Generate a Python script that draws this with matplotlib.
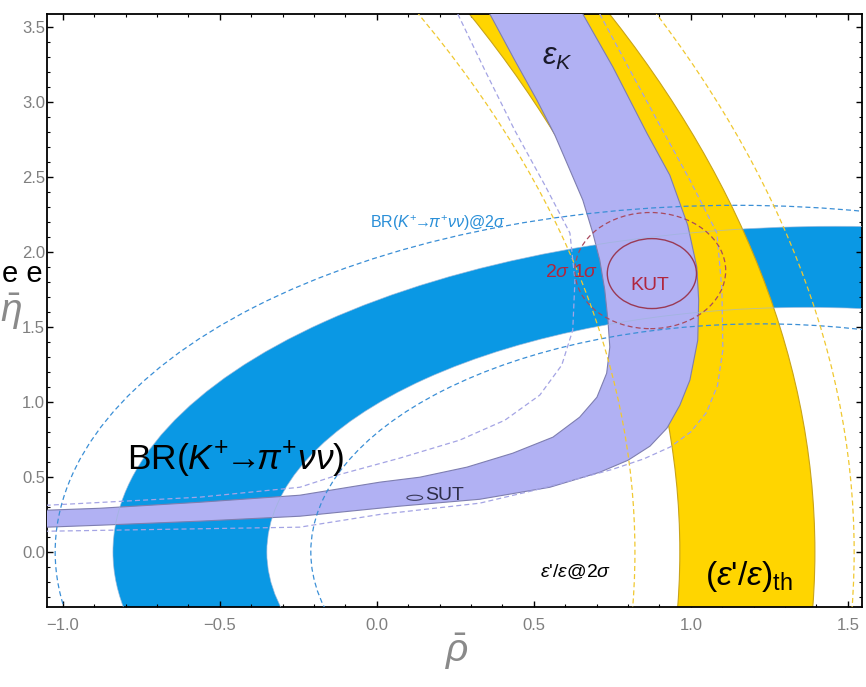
import numpy as np
import matplotlib
matplotlib.use("Agg")
import matplotlib.pyplot as plt
from matplotlib.patches import Ellipse, PathPatch, Polygon
from matplotlib.path import Path
from matplotlib.transforms import Affine2D
from matplotlib.ticker import MultipleLocator

plt.rcParams['font.family'] = ['Liberation Sans', 'DejaVu Sans']
plt.rcParams['mathtext.fontset'] = 'custom'
plt.rcParams['mathtext.rm'] = 'Liberation Sans'
plt.rcParams['mathtext.it'] = 'Liberation Sans:italic'
plt.rcParams['mathtext.bf'] = 'Liberation Sans:bold'
plt.rcParams['mathtext.fallback'] = 'stixsans'

# ---------------- data ----------------
x_range = [-1.05, 1.545]
y_range = [-0.367, 3.585]

# BR(K+ -> pi+ nu nu): ellipses centred on the rho axis (rho0, semi-axis rho, semi-axis eta)
br_outer = [1.46, 2.30, 2.17]
br_inner = [1.37, 1.72, 1.63]
br_2sig_outer = [1.146, 2.17, 2.31]
br_2sig_inner = [1.225, 1.435, 1.52]

# (eps'/eps)_th: circles centred on the rho axis (rho0, radius)
ep_left = [-8.96, 9.925]
ep_right = [-8.76, 10.155]
ep_2sig_left = [-8.845, 9.667]
ep_2sig_right = [-9.01, 10.53]

# eps_K band edges (rho, eta)
ek_upper_rho = [0.360, 0.439, 0.510, 0.567, 0.615, 0.656, 0.688, 0.710, 0.726, 0.736, 0.742,
                0.732, 0.701, 0.646, 0.561, 0.433, 0.287, 0.137, 0.010, -0.245, -0.564, -0.882, -1.051]
ek_upper_eta = [3.585, 3.278, 3.011, 2.778, 2.545, 2.345, 2.125, 1.945, 1.745, 1.545, 1.365,
                1.191, 1.031, 0.898, 0.765, 0.658, 0.565, 0.498, 0.465, 0.378, 0.331, 0.291, 0.278]
ek_lower_rho = [0.656, 0.752, 0.860, 0.933, 0.990, 1.019, 1.025, 1.022, 0.997, 0.965, 0.924,
                0.870, 0.800, 0.710, 0.551, 0.328, 0.073, -0.245, -0.564, -0.882, -1.051]
ek_lower_eta = [3.585, 3.231, 2.791, 2.511, 2.178, 1.898, 1.678, 1.411, 1.145, 0.978, 0.825,
                0.705, 0.611, 0.531, 0.431, 0.351, 0.305, 0.238, 0.205, 0.178, 0.165]

# eps_K 2 sigma contour, two branches
ek2_a_rho = [0.258, 0.344, 0.439, 0.535, 0.615, 0.631, 0.624, 0.589, 0.519, 0.408, 0.264,
             0.073, -0.127, -0.245, -0.564, -1.051]
ek2_a_eta = [3.585, 3.211, 2.811, 2.445, 2.125, 1.811, 1.478, 1.245, 1.045, 0.878, 0.745,
             0.625, 0.511, 0.431, 0.365, 0.311]
ek2_b_rho = [0.710, 0.806, 0.901, 0.997, 1.083, 1.099, 1.102, 1.085, 1.050, 1.000, 0.935,
             0.850, 0.750, 0.646, 0.500, 0.328, 0.010, -0.245, -1.051]
ek2_b_eta = [3.585, 3.211, 2.845, 2.478, 2.125, 1.745, 1.345, 1.110, 0.930, 0.800, 0.700,
             0.620, 0.550, 0.491, 0.410, 0.325, 0.250, 0.165, 0.138]

# KUT / SUT fits: centre rho, centre eta, semi-axis rho, semi-axis eta
kut_1sig = [0.876, 1.855, 0.142, 0.233]
kut_2sig = [0.871, 1.875, 0.240, 0.387]
sut_fit = [0.121, 0.361, 0.025, 0.017]

x_ticks = [-1.0, -0.5, 0.0, 0.5, 1.0, 1.5]
x_tick_labels = ['−1.0', '−0.5', '0.0', '0.5', '1.0', '1.5']
y_ticks = [0.0, 0.5, 1.0, 1.5, 2.0, 2.5, 3.0, 3.5]

# ---------------- colours ----------------
c_blue = '#0A98E4'
c_purple = '#B1B1F3'
c_yellow = '#FFD500'
c_blue_d = '#3B8FD6'
c_purple_d = '#A4A4E4'
c_yellow_d = '#F0C830'
c_red = '#B0263E'

W, H = 866, 687
fig = plt.figure(figsize=(W / 100, H / 100), dpi=100)
ax = fig.add_axes([47 / W, 1 - 607 / H, (862 - 47) / W, (607 - 14) / H])
ax.set_xlim(*x_range)
ax.set_ylim(*y_range)


def conic_path(rho0, a, b, reverse=False):
    """Ellipse centred at (rho0, 0); reverse=True gives the opposite winding."""
    sign = -1 if reverse else 1
    return Path.unit_circle().transformed(Affine2D().scale(a, sign * b).translate(rho0, 0))


# BR band
br_path = Path.make_compound_path(conic_path(*br_outer), conic_path(*br_inner, reverse=True))
ax.add_patch(PathPatch(br_path, facecolor=c_blue, edgecolor='none', zorder=1))

# (eps'/eps)_th band
ep_path = Path.make_compound_path(conic_path(ep_right[0], ep_right[1], ep_right[1]),
                                  conic_path(ep_left[0], ep_left[1], ep_left[1], reverse=True))
ax.add_patch(PathPatch(ep_path, facecolor=c_yellow, edgecolor='#C9A418', lw=0.8, zorder=2))

# eps_K band
ek_poly = list(zip(ek_upper_rho, ek_upper_eta)) + list(zip(ek_lower_rho[::-1], ek_lower_eta[::-1]))
ax.add_patch(Polygon(ek_poly, closed=True, facecolor=c_purple, edgecolor='none', zorder=3))
ax.plot(ek_upper_rho, ek_upper_eta, color='#7E7EB0', lw=0.8, zorder=3.1)
ax.plot(ek_lower_rho, ek_lower_eta, color='#7E7EB0', lw=0.8, zorder=3.1)

# faint outline of the BR band running over the other regions
for r0, a, b in [br_outer, br_inner]:
    ax.add_patch(Ellipse((r0, 0), 2 * a, 2 * b, fill=False, edgecolor='#9DB6D8',
                         lw=0.6, alpha=0.7, zorder=3.2))

dash = (0, (4, 2.5))
# 2 sigma contours
for r0, a, b in [br_2sig_outer, br_2sig_inner]:
    ax.add_patch(Ellipse((r0, 0), 2 * a, 2 * b, fill=False, edgecolor=c_blue_d,
                         lw=0.9, linestyle=dash, zorder=4))
for r0, r in [ep_2sig_left, ep_2sig_right]:
    ax.add_patch(Ellipse((r0, 0), 2 * r, 2 * r, fill=False, edgecolor=c_yellow_d,
                         lw=0.9, linestyle=dash, zorder=4))
ax.plot(ek2_a_rho, ek2_a_eta, color=c_purple_d, lw=0.9, linestyle=dash, zorder=4)
ax.plot(ek2_b_rho, ek2_b_eta, color=c_purple_d, lw=0.9, linestyle=dash, zorder=4)

# KUT and SUT regions
ax.add_patch(Ellipse(kut_1sig[:2], 2 * kut_1sig[2], 2 * kut_1sig[3], fill=False,
                     edgecolor='#9A3A55', lw=1.0, zorder=5))
ax.add_patch(Ellipse(kut_2sig[:2], 2 * kut_2sig[2], 2 * kut_2sig[3], fill=False,
                     edgecolor='#A84A5E', lw=0.9, linestyle=dash, zorder=5))
ax.add_patch(Ellipse(sut_fit[:2], 2 * sut_fit[2], 2 * sut_fit[3], fill=False,
                     edgecolor='#3A3A5A', lw=0.8, zorder=5))

# labels inside the plot
ax.text(0.573, 3.30, r'$\epsilon_K$', fontsize=22, color='#1A1A2A', ha='center', va='center', zorder=6)
ax.text(0.411, 2.156, r'BR($K^{+}\!\!\rightarrow\!\!\pi^{+}\nu\nu$)@2$\sigma$', fontsize=11.5,
        color='#2A8FD8', ha='right', va='baseline', zorder=6)
ax.text(-0.796, 0.545, r'BR($K^{+}\!\!\rightarrow\!\!\pi^{+}\nu\nu$)', fontsize=25.5,
        color='black', ha='left', va='baseline', zorder=6)
ax.text(0.535, 1.831, r'2$\sigma$ 1$\sigma$', fontsize=14, color=c_red, ha='left', va='baseline', zorder=6)
ax.text(0.806, 1.745, 'KUT', fontsize=14, color=c_red, ha='left', va='baseline', zorder=6)
ax.text(0.153, 0.345, 'SUT', fontsize=14, color='#2E2E48', ha='left', va='baseline', zorder=6)
ax.text(0.519, -0.169, r"$\epsilon$'/$\epsilon$@2$\sigma$", fontsize=14, color='black',
        ha='left', va='baseline', zorder=6)
ax.text(1.045, -0.222, r"($\epsilon$'/$\epsilon$)$_{\mathrm{th}}$", fontsize=24, color='black',
        ha='left', va='baseline', zorder=6)

# axes styling
ax.set_xticks(x_ticks)
ax.set_yticks(y_ticks)
ax.set_xticklabels(x_tick_labels)
ax.xaxis.set_minor_locator(MultipleLocator(0.1))
ax.yaxis.set_minor_locator(MultipleLocator(0.1))
ax.tick_params(which='both', direction='in', top=True, right=True, color='black')
ax.tick_params(which='major', length=4, width=1.0)
ax.tick_params(which='minor', length=2.5, width=0.8)
ax.tick_params(axis='x', labelsize=12, labelcolor='#7F7F7F', pad=8)
ax.tick_params(axis='y', labelsize=12, labelcolor='#7F7F7F', pad=1.5)
for s in ax.spines.values():
    s.set_linewidth(1.3)

fig.text(457 / W, 1 - 652 / H, r'$\bar{\rho}$', fontsize=28, color='#8A8A8A', ha='center', va='center')
fig.text(11 / W, 1 - 312 / H, r'$\bar{\eta}$', fontsize=28, color='#8A8A8A', ha='center', va='center')
fig.text(2 / W, 1 - 282 / H, 'e e', fontsize=21, color='black', ha='left', va='baseline')

fig.savefig('out.png', dpi=100)
